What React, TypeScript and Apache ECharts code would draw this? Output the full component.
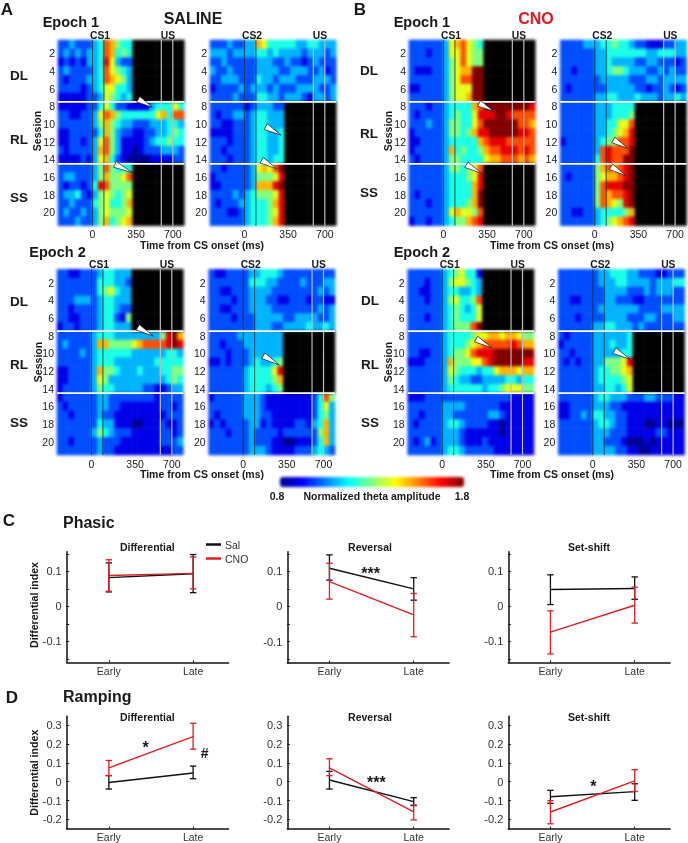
import React, { useEffect, useRef } from "react";
import * as echarts from "echarts";

const FONT = "Liberation Sans";
const BINS_MS = Array.from({ length: 22 }, (_, i) => String(-300 + 50 * i));
const SESSIONS = Array.from({ length: 21 }, (_, i) => String(i + 1));
const CS_TIMES = [0, 100];
const US_TIMES = [600, 700];
const DIVIDER_ROWS = [7, 14];
const TIME_TICKS = [0, 350, 700];

// Each row: one session; each char: one 50 ms bin. 0-9,X = amplitude 0.8..1.8; missing trailing bins = no data (black).
const salineE1CS1 = [
  "2232223487544", "2323233487454", "1212133496322", "2322223486543", "2122233487653", "2222123466443", "1111122365434",
  "1111122464221111344464", "2211223687544444467488", "2222223575433222333443", "1122222475322112233454", "1122123685311112344544", "2122223785311012223332", "1111213674210000111122",
  "2222223585444", "2332223575568", "2122124985555", "2334213565456", "2232224564457", "2322323565556", "2223223574567",
];
const salineE1CS2 = [
  "2223223376444443344333", "3332333344343333233323", "2232222233322322123222", "3223222233332233322312", "2233322243323332223332", "1222232333232223333223", "2222322244332333213323",
  "2222221233322", "2122332344333", "2211222344333", "1111222344334", "2221222344334", "2212222344334", "2221222344344",
  "221222236768X", "1222222355569", "112222237779X", "2222323455569", "2122233444579", "2221123444569", "2222223444579",
];
const cnoE1CS1 = [
  "2222223678654", "2221223668655", "2222223568655", "21112235677XX", "22222235688XX", "11222235666XX", "22222235667XX",
  "2221223444478XXXXXXXX9", "212222345446999XX98888", "2223223554468XXXXXX887", "12222235545799XXXXX998", "1122223444447899988888", "1222223745445788999898", "2122223554444677888787",
  "2222223554568", "2222223444569", "2222223444479", "212222344447X", "222122344457X", "2222223676658", "1221223455789",
];
const cnoE1CS2 = [
  "2222333445443221112233", "2222223344444443344433", "2222223343333223322212", "2212223345543332232322", "2222222333332223323333", "2122222233333221223212", "2222223344333433323343",
  "2222223334444", "2222223334445", "2222223344668", "2222223345679", "1222223455889", "222222389888X", "22222248988XX",
  "222222578789X", "212222567789X", "22222258999XX", "222222587889X", "222222587659X", "2211223444457", "2222223456789",
];
const salineE2CS1 = [
  "2211222344333", "2222222444332", "2222222456433", "2223332344333", "2212222344322", "2211222344215", "1221222344333",
  "22222234443333333359X7", "23222237755556788889X9", "2222323444444333333443", "2222223444333333344444", "1122223755433343334455", "1122223653333333333454", "1222223544333332211233",
  "1222222332222222212222", "2122222332211111112212", "2212222322111111111222", "2222222433111001112112", "2222223543222111112212", "2212222322211111112223", "2222222322111111111122",
];
const salineE2CS2 = [
  "2112222334443222222222", "2222222444332222322233", "2211222333322222222323", "2222122333221122212211", "2211222333322222222323", "2222122233333223333223", "2222222233322333343343",
  "2222233333333", "2212223333333", "2221222333333", "1121222343345", "2222223444469", "2222223444457", "2222223444345",
  "1222223332111111112485", "2222223332111111112463", "2122223332211111112453", "1212222331211112213473", "2221222322221222222573", "2222222322211001112473", "2222222333211112223432",
];
const cnoE2CS1 = [
  "2222223456441", "2221223566543", "2211223443343", "2221223564458", "2222223454346", "2221223454446", "222222345558X",
  "2222223444456677677655", "2222223444567888889877", "221122345568999XXXXXXX", "111222375556689XXXXX99", "2222223654443446777677", "2222223543322333344344", "2222223444444344566655",
  "1112222222222222221111", "2222223333222222111111", "2212223322222233211111", "2122223443222211011111", "2222223332111111011111", "2123123332111211111111", "2222223443222221111111",
];
const cnoE2CS2 = [
  "2222222334443322211222", "2222222333443333233344", "2222222233332223233322", "2211222233222112222222", "2222222333333322223333", "2221222233332223322233", "2222223344333232222222",
  "2122223333334", "1222223334334", "2212223333344", "2121223355569", "2222223445567", "2222223444456", "2222223344346",
  "2222223443332223322211", "1122223332211111111111", "1122324433221111111111", "2222223443221110011000", "2222223332221111122111", "2222223322210001011111", "2222223333221100111111",
];

// value = [mean, low, high] at Early and Late
const phasicDifferentialSal = [[0.082, 0.041, 0.124], [0.093, 0.039, 0.148]];
const phasicDifferentialCno = [[0.088, 0.043, 0.133], [0.094, 0.05, 0.141]];
const phasicReversalSal = [[0.109, 0.075, 0.147], [0.05, 0.018, 0.082]];
const phasicReversalCno = [[0.071, 0.021, 0.123], [-0.024, -0.086, 0.037]];
const phasicSetShiftSal = [[0.048, 0.005, 0.09], [0.051, 0.02, 0.084]];
const phasicSetShiftCno = [[-0.074, -0.136, -0.013], [0.003, -0.048, 0.055]];
const rampingDifferentialSal = [[-0.004, -0.039, 0.033], [0.046, 0.016, 0.083]];
const rampingDifferentialCno = [[0.074, 0.032, 0.113], [0.24, 0.173, 0.311]];
const rampingReversalSal = [[0.009, -0.039, 0.055], [-0.106, -0.127, -0.085]];
const rampingReversalCno = [[0.073, 0.032, 0.122], [-0.16, -0.203, -0.124]];
const rampingSetShiftSal = [[-0.08, -0.115, -0.046], [-0.053, -0.099, -0.011]];
const rampingSetShiftCno = [[-0.161, -0.224, -0.101], [0.004, -0.052, 0.064]];
const PHASES = ["Early", "Late"];

const JET = ["#000090", "#0000ff", "#0080ff", "#00ffff", "#80ff80", "#ffff00", "#ff8000", "#ff0000", "#800000"];

const decode = (rows: string[]) => {
  const out: number[][] = [];
  rows.forEach((row, r) => {
    for (let c = 0; c < row.length && c < 22; c++) {
      const ch = row[c];
      out.push([c, r, ch === "X" ? 1.8 : 0.8 + Number(ch) * 0.1]);
    }
  });
  return out;
};
const decodeMissing = (rows: string[]) => {
  const out: number[][] = [];
  rows.forEach((row, r) => {
    for (let c = row.length; c < 22; c++) out.push([c, r, 1]);
  });
  return out;
};

const panels = [
  { rows: salineE1CS1, x: 58, y: 40, w: 126.3, h: 185.7, cue: "CS1", arrows: [[521, 7.6, 399, 6.7], [347, 15.0, 196, 14.06]] },
  { rows: salineE1CS2, x: 210, y: 40, w: 126.3, h: 185.7, cue: "CS2", arrows: [[318, 10.75, 185, 9.8], [281, 14.56, 150, 13.6]] },
  { rows: cnoE1CS1, x: 409, y: 40, w: 126.3, h: 185.7, cue: "CS1", arrows: [[434, 8.03, 310, 7.16], [333, 15.08, 199, 14.1]] },
  { rows: cnoE1CS2, x: 560.3, y: 40, w: 126.3, h: 185.7, cue: "CS2", arrows: [[287, 12.25, 162, 11.3], [272, 15.35, 142, 14.33]] },
  { rows: salineE2CS1, x: 57, y: 269.3, w: 126.3, h: 185.7, cue: "CS1", arrows: [[539, 7.55, 403, 6.56]] },
  { rows: salineE2CS2, x: 208.7, y: 269.3, w: 126.3, h: 185.7, cue: "CS2", arrows: [[315, 10.83, 176, 9.77]] },
  { rows: cnoE2CS1, x: 407.7, y: 269.3, w: 126.3, h: 185.7, cue: "CS1", arrows: [[432, 8.87, 295, 7.88]] },
  { rows: cnoE2CS2, x: 558.3, y: 269.3, w: 126.3, h: 185.7, cue: "CS2", arrows: [[324, 10.15, 188, 9.2]] },
];

const linePanels = [
  { sal: phasicDifferentialSal, cno: phasicDifferentialCno, x: 66.7, y: 551.7, h: 110.6, kind: "C" },
  { sal: phasicReversalSal, cno: phasicReversalCno, x: 287.3, y: 551.7, h: 111, kind: "C" },
  { sal: phasicSetShiftSal, cno: phasicSetShiftCno, x: 508.3, y: 551.7, h: 110.6, kind: "C" },
  { sal: rampingDifferentialSal, cno: rampingDifferentialCno, x: 66.7, y: 716.3, h: 112.4, kind: "D" },
  { sal: rampingReversalSal, cno: rampingReversalCno, x: 287.3, y: 716.3, h: 112.4, kind: "D" },
  { sal: rampingSetShiftSal, cno: rampingSetShiftCno, x: 508.3, y: 716.3, h: 112.4, kind: "D" },
];

const txt = (x: number, y: number, text: string, size: number, opts: any = {}) => ({
  type: "text",
  x,
  y,
  rotation: opts.rotation || 0,
  silent: true,
  z: 20,
  style: {
    text,
    fontFamily: FONT,
    fontSize: size,
    fontWeight: opts.weight || "bold",
    fill: opts.fill || "#1a1a1a",
    textAlign: opts.align || "center",
    textVerticalAlign: "middle",
  },
});

function heatOption() {
  const grid: any[] = [];
  const xAxis: any[] = [];
  const yAxis: any[] = [];
  const series: any[] = [];
  const heatIdx: number[] = [];
  const blackIdx: number[] = [];
  panels.forEach((p, g) => {
    grid.push({ left: p.x, top: p.y, width: p.w, height: p.h });
    xAxis.push({ type: "category", gridIndex: g, data: BINS_MS, show: false });
    yAxis.push({ type: "category", gridIndex: g, data: SESSIONS, inverse: true, show: false });
    heatIdx.push(series.length);
    series.push({ type: "heatmap", xAxisIndex: g, yAxisIndex: g, data: decode(p.rows), silent: true, progressive: 0, itemStyle: { borderWidth: 0 } });
    blackIdx.push(series.length);
    series.push({ type: "heatmap", xAxisIndex: g, yAxisIndex: g, data: decodeMissing(p.rows), silent: true, progressive: 0, itemStyle: { borderWidth: 0 } });
  });
  return {
    animation: false,
    grid,
    xAxis,
    yAxis,
    series,
    visualMap: [
      {
        type: "continuous",
        seriesIndex: heatIdx,
        min: 0.8,
        max: 1.8,
        orient: "horizontal",
        left: 280,
        top: 477,
        itemWidth: 10,
        itemHeight: 184,
        padding: 0,
        calculable: false,
        hoverLink: false,
        inRange: { color: JET },
        showLabel: false,
      },
      {
        type: "continuous",
        seriesIndex: blackIdx,
        min: 0,
        max: 2,
        show: false,
        inRange: { color: ["#000000", "#000000"] },
      },
    ],
  };
}

function overlayOption() {
  const grid: any[] = [];
  const xAxis: any[] = [];
  const yAxis: any[] = [];
  const series: any[] = [];
  const labelColor = "#222";

  panels.forEach((p) => {
    const g = grid.length;
    grid.push({ left: p.x, top: p.y, width: p.w, height: p.h });
    const xv = xAxis.length;
    xAxis.push({
      type: "value",
      gridIndex: g,
      min: -300,
      max: 800,
      position: "bottom",
      axisLine: { show: false },
      splitLine: { show: false },
      axisTick: { show: false },
      axisLabel: {
        customValues: TIME_TICKS,
        margin: 3,
        color: labelColor,
        fontFamily: FONT,
        fontSize: 10.5,
        formatter: (v: number) => (v === 350 ? `{s|${v}}` : String(v)),
        rich: { s: { padding: [0, 0, 0, 7], fontFamily: FONT, fontSize: 10.5, color: labelColor } },
      },
    });
    yAxis.push({
      type: "category",
      gridIndex: g,
      data: SESSIONS,
      inverse: true,
      axisLine: { show: false },
      axisTick: { show: false },
      splitLine: { show: false },
      axisLabel: { interval: (i: number) => (i + 1) % 2 === 0, margin: 3, padding: [3, 0, 0, 0], color: labelColor, fontFamily: FONT, fontSize: 10.5 },
    });
    const yv = yAxis.length;
    yAxis.push({ type: "value", gridIndex: g, min: 0, max: 21, inverse: true, show: false, splitLine: { show: false } });

    const rules = (data: number[][], stroke: string, lineWidth: number, opacity = 1) => ({
      type: "custom",
      xAxisIndex: xv,
      yAxisIndex: yv,
      silent: true,
      z: 5,
      clip: false,
      encode: { x: [0, 2], y: [1, 3] },
      data,
      renderItem: (_: any, api: any) => {
        const a = api.coord([api.value(0), api.value(1)]);
        const b = api.coord([api.value(2), api.value(3)]);
        return { type: "line", shape: { x1: a[0], y1: a[1], x2: b[0], y2: b[1] }, style: { stroke, lineWidth, opacity } };
      },
    });
    series.push(rules(CS_TIMES.map((t) => [t, 0, t, 21]), "#23343a", 1, 0.85));
    series.push(rules(US_TIMES.map((t) => [t, 0, t, 21]), "#bdbdbd", 1.2));
    series.push(rules(DIVIDER_ROWS.map((r) => [-300, r, 800, r]), "#ffffff", 1.8));

    series.push({
      type: "custom",
      xAxisIndex: xv,
      yAxisIndex: yv,
      silent: true,
      z: 6,
      clip: false,
      encode: { x: [0, 2], y: [1, 3] },
      data: p.arrows,
      renderItem: (_: any, api: any) => {
        const tip = api.coord([api.value(0), api.value(1)]);
        const tail = api.coord([api.value(2), api.value(3)]);
        const dx = tail[0] - tip[0];
        const dy = tail[1] - tip[1];
        const len = Math.hypot(dx, dy) || 1;
        const nx = (-dy / len) * 3.2;
        const ny = (dx / len) * 3.2;
        return {
          type: "polygon",
          shape: { points: [tip, [tail[0] + nx, tail[1] + ny], [tail[0] - nx, tail[1] - ny]] },
          style: { fill: "#ffffff", stroke: "#111", lineWidth: 0.7 },
        };
      },
    });
  });

  linePanels.forEach((p) => {
    const g = grid.length;
    const isC = p.kind === "C";
    grid.push({ left: p.x, top: p.y, width: 161.8, height: p.h });
    const xi = xAxis.length;
    xAxis.push({
      type: "value",
      gridIndex: g,
      min: 0.5,
      max: 2.42,
      axisLine: { show: true, onZero: false, lineStyle: { color: "#111", width: 1.5 } },
      splitLine: { show: false },
      axisTick: { show: true, inside: true, length: 2, customValues: [1, 2], lineStyle: { color: "#111" } },
      axisLabel: {
        customValues: [1, 2],
        margin: 3,
        color: "#333",
        fontFamily: FONT,
        fontSize: 10.5,
        formatter: (v: number) => PHASES[Math.round(v) - 1],
      },
    });
    const yi = yAxis.length;
    yAxis.push({
      type: "value",
      gridIndex: g,
      min: isC ? -0.16 : -0.25,
      max: isC ? 0.156 : 0.348,
      axisLine: { show: true, onZero: false, lineStyle: { color: "#111", width: 1.5 } },
      splitLine: { show: false },
      axisTick: {
        show: true,
        inside: true,
        length: 2.5,
        customValues: isC ? [-0.15, -0.1, -0.05, 0, 0.05, 0.1, 0.15] : [-0.2, -0.1, 0, 0.1, 0.2, 0.3],
        lineStyle: { color: "#111" },
      },
      axisLabel: {
        customValues: isC ? [-0.1, 0, 0.1] : [-0.2, -0.1, 0, 0.1, 0.2, 0.3],
        margin: 5,
        color: "#333",
        fontFamily: FONT,
        fontSize: 11,
        formatter: (v: number) => String(v),
      },
    });

    const add = (name: string, rows: number[][], color: string) => {
      series.push({
        type: "line",
        name,
        xAxisIndex: xi,
        yAxisIndex: yi,
        data: rows.map((r, i) => [i + 1, r[0]]),
        symbol: "none",
        silent: true,
        lineStyle: { color, width: 1.4 },
        itemStyle: { color },
        z: 3,
      });
      series.push({
        type: "custom",
        xAxisIndex: xi,
        yAxisIndex: yi,
        silent: true,
        z: 4,
        clip: false,
        encode: { x: 0, y: [1, 2] },
        data: rows.map((r, i) => [i + 1, r[1], r[2]]),
        renderItem: (_: any, api: any) => {
          const lo = api.coord([api.value(0), api.value(1)]);
          const hi = api.coord([api.value(0), api.value(2)]);
          const st = { stroke: color, lineWidth: 1.3 };
          const cap = 3.2;
          return {
            type: "group",
            children: [
              { type: "line", shape: { x1: lo[0], y1: lo[1], x2: hi[0], y2: hi[1] }, style: st },
              { type: "line", shape: { x1: lo[0] - cap, y1: lo[1], x2: lo[0] + cap, y2: lo[1] }, style: st },
              { type: "line", shape: { x1: hi[0] - cap, y1: hi[1], x2: hi[0] + cap, y2: hi[1] }, style: st },
            ],
          };
        },
      });
    };
    add("Sal", p.sal, "#111111");
    add("CNO", p.cno, "#dd1f26");
  });

  const graphicEls: any[] = [];
  const letters: [number, number, string, number][] = [
    [7, 9, "A", 17], [360, 9, "B", 17], [9, 520, "C", 17], [12, 697, "D", 17],
  ];
  letters.forEach(([x, y, s, z]) => graphicEls.push(txt(x, y, s, z)));
  graphicEls.push(txt(193, 18, "SALINE", 16));
  graphicEls.push(txt(536, 18, "CNO", 16, { fill: "#e01a22" }));
  graphicEls.push(txt(42.7, 21.7, "Epoch 1", 14.5, { align: "left" }));
  graphicEls.push(txt(393.7, 21.7, "Epoch 1", 14.5, { align: "left" }));
  graphicEls.push(txt(29.3, 251.7, "Epoch 2", 14.5, { align: "left" }));
  graphicEls.push(txt(393.7, 251.7, "Epoch 2", 14.5, { align: "left" }));
  panels.forEach((p) => {
    const y = p.y - 5;
    graphicEls.push(txt(p.x + 42, y, p.cue, 10.3));
    graphicEls.push(txt(p.x + 110, y, "US", 10.3));
  });
  const sideLabels: [number, number, string][] = [
    [19, 75, "DL"], [19, 139, "RL"], [19, 197, "SS"],
    [19, 301, "DL"], [19, 364, "RL"], [19, 422, "SS"],
    [369, 70, "DL"], [369, 133, "RL"], [369, 192, "SS"],
    [370, 300, "DL"], [370, 364, "RL"], [370, 422, "SS"],
  ];
  sideLabels.forEach(([x, y, s]) => graphicEls.push(txt(x, y, s, 13.5)));
  const sess: [number, number][] = [[37, 131], [38, 362], [388, 131], [388, 362]];
  sess.forEach(([x, y]) => graphicEls.push(txt(x, y, "Session", 10.5, { rotation: Math.PI / 2 })));
  const times: [number, number][] = [[202, 245], [202, 474], [552, 245], [552, 474]];
  times.forEach(([x, y]) => graphicEls.push(txt(x, y, "Time from CS onset (ms)", 10.5)));
  graphicEls.push(txt(277, 496, "0.8", 10.5));
  graphicEls.push(txt(462, 496, "1.8", 10.5));
  graphicEls.push(txt(372, 496, "Normalized theta amplitude", 10.5));
  graphicEls.push(txt(63, 522.7, "Phasic", 16, { align: "left" }));
  graphicEls.push(txt(63, 696, "Ramping", 16, { align: "left" }));
  graphicEls.push(txt(34, 605, "Differential index", 10.6, { rotation: Math.PI / 2 }));
  graphicEls.push(txt(34, 772.7, "Differential index", 10.6, { rotation: Math.PI / 2 }));
  const titles = ["Differential", "Reversal", "Set-shift"];
  [147.3, 370, 589].forEach((x, i) => {
    graphicEls.push(txt(x, 546.7, titles[i], 10.5));
    graphicEls.push(txt(x, 717.3, titles[i], 10.5));
  });
  const stars: [number, number, string, number][] = [
    [370.7, 573, "***", 16], [145.7, 747, "*", 16], [204.7, 752.7, "#", 14], [376.3, 782, "***", 16], [593.3, 786, "*", 16],
  ];
  stars.forEach(([x, y, s, z]) => graphicEls.push(txt(x, y, s, z)));

  return {
    animation: false,
    grid,
    xAxis,
    yAxis,
    series,
    legend: {
      orient: "vertical",
      left: 206,
      top: 539,
      padding: 0,
      itemGap: 3,
      itemWidth: 15,
      itemHeight: 2.5,
      selectedMode: false,
      textStyle: { fontFamily: FONT, fontSize: 10.5, color: "#333", padding: [0, 0, 0, -1] },
      data: [
        { name: "Sal", icon: "rect" },
        { name: "CNO", icon: "rect" },
      ],
    },
    graphic: { elements: graphicEls },
  };
}

export default function App() {
  const heatRef = useRef<HTMLDivElement>(null);
  const overlayRef = useRef<HTMLDivElement>(null);
  useEffect(() => {
    const heat = echarts.init(heatRef.current!, undefined, { renderer: "svg" });
    heat.setOption(heatOption());
    const overlay = echarts.init(overlayRef.current!, undefined, { renderer: "svg" });
    overlay.setOption(overlayOption());
    return () => {
      heat.dispose();
      overlay.dispose();
    };
  }, []);
  const box: React.CSSProperties = { position: "fixed", left: 0, top: 0, width: 688, height: 843 };
  return (
    <div style={{ ...box, background: "#fff" }}>
      <div ref={heatRef} style={{ ...box, filter: "blur(1.6px)" }} />
      <div ref={overlayRef} style={{ ...box, filter: "blur(0.3px)" }} />
    </div>
  );
}
